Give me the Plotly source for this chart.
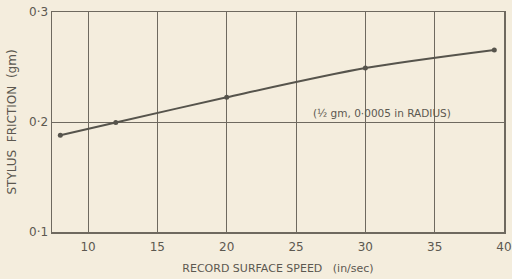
import plotly.graph_objects as go

speed = [8, 12, 20, 30, 39.3]
friction = [0.188, 0.1995, 0.2225, 0.249, 0.2655]
x_ticks = [10, 15, 20, 25, 30, 35, 40]
y_ticks = [0.1, 0.2, 0.3]
y_tick_labels = ["0·1", "0·2", "0·3"]

ink = "#6e695f"
line_ink = "#56544c"
txt = "#5c5850"
bg = "#f4eddd"
font = "DejaVu Sans, sans-serif"

fig = go.Figure()
fig.add_trace(go.Scatter(
    x=speed, y=friction, mode="lines+markers",
    line=dict(color=line_ink, width=2, shape="spline", smoothing=0.8),
    marker=dict(color=line_ink, size=5),
    showlegend=False, cliponaxis=False, hoverinfo="skip",
))

fig.add_annotation(
    x=31.2, y=0.2, xref="x", yref="y", yanchor="bottom", xanchor="center",
    text="(½ gm, 0·0005 in RADIUS)", showarrow=False,
    font=dict(family=font, size=10.5, color=txt), yshift=1,
)

fig.update_layout(
    width=512, height=279,
    margin=dict(l=52, r=8, t=12, b=47),
    paper_bgcolor=bg, plot_bgcolor=bg,
    font=dict(family=font, size=12, color=txt),
    xaxis=dict(
        range=[7.4, 40], tickvals=x_ticks, ticks="", showgrid=True,
        gridcolor=ink, gridwidth=1, zeroline=False, automargin=False,
        showline=True, linecolor=ink, linewidth=1.5, mirror=True,
        ticklabeloverflow="allow", ticklabelstandoff=3,
        title=dict(text="RECORD SURFACE SPEED   (in/sec)", font=dict(size=11), standoff=11),
        tickfont=dict(size=12),
    ),
    yaxis=dict(
        range=[0.1, 0.3], tickvals=y_ticks, ticktext=y_tick_labels, ticks="",
        showgrid=True, gridcolor=ink, gridwidth=1, zeroline=False, automargin=False,
        showline=True, linecolor=ink, linewidth=1.5, mirror=True,
        title=dict(text="STYLUS  FRICTION  (gm)", font=dict(size=12), standoff=10),
        tickfont=dict(size=12),
    ),
)

fig.write_html(
    "out.html",
    config={"displayModeBar": False, "staticPlot": True},
    post_script="document.body.style.margin='0';document.body.style.background='%s';" % bg,
)
